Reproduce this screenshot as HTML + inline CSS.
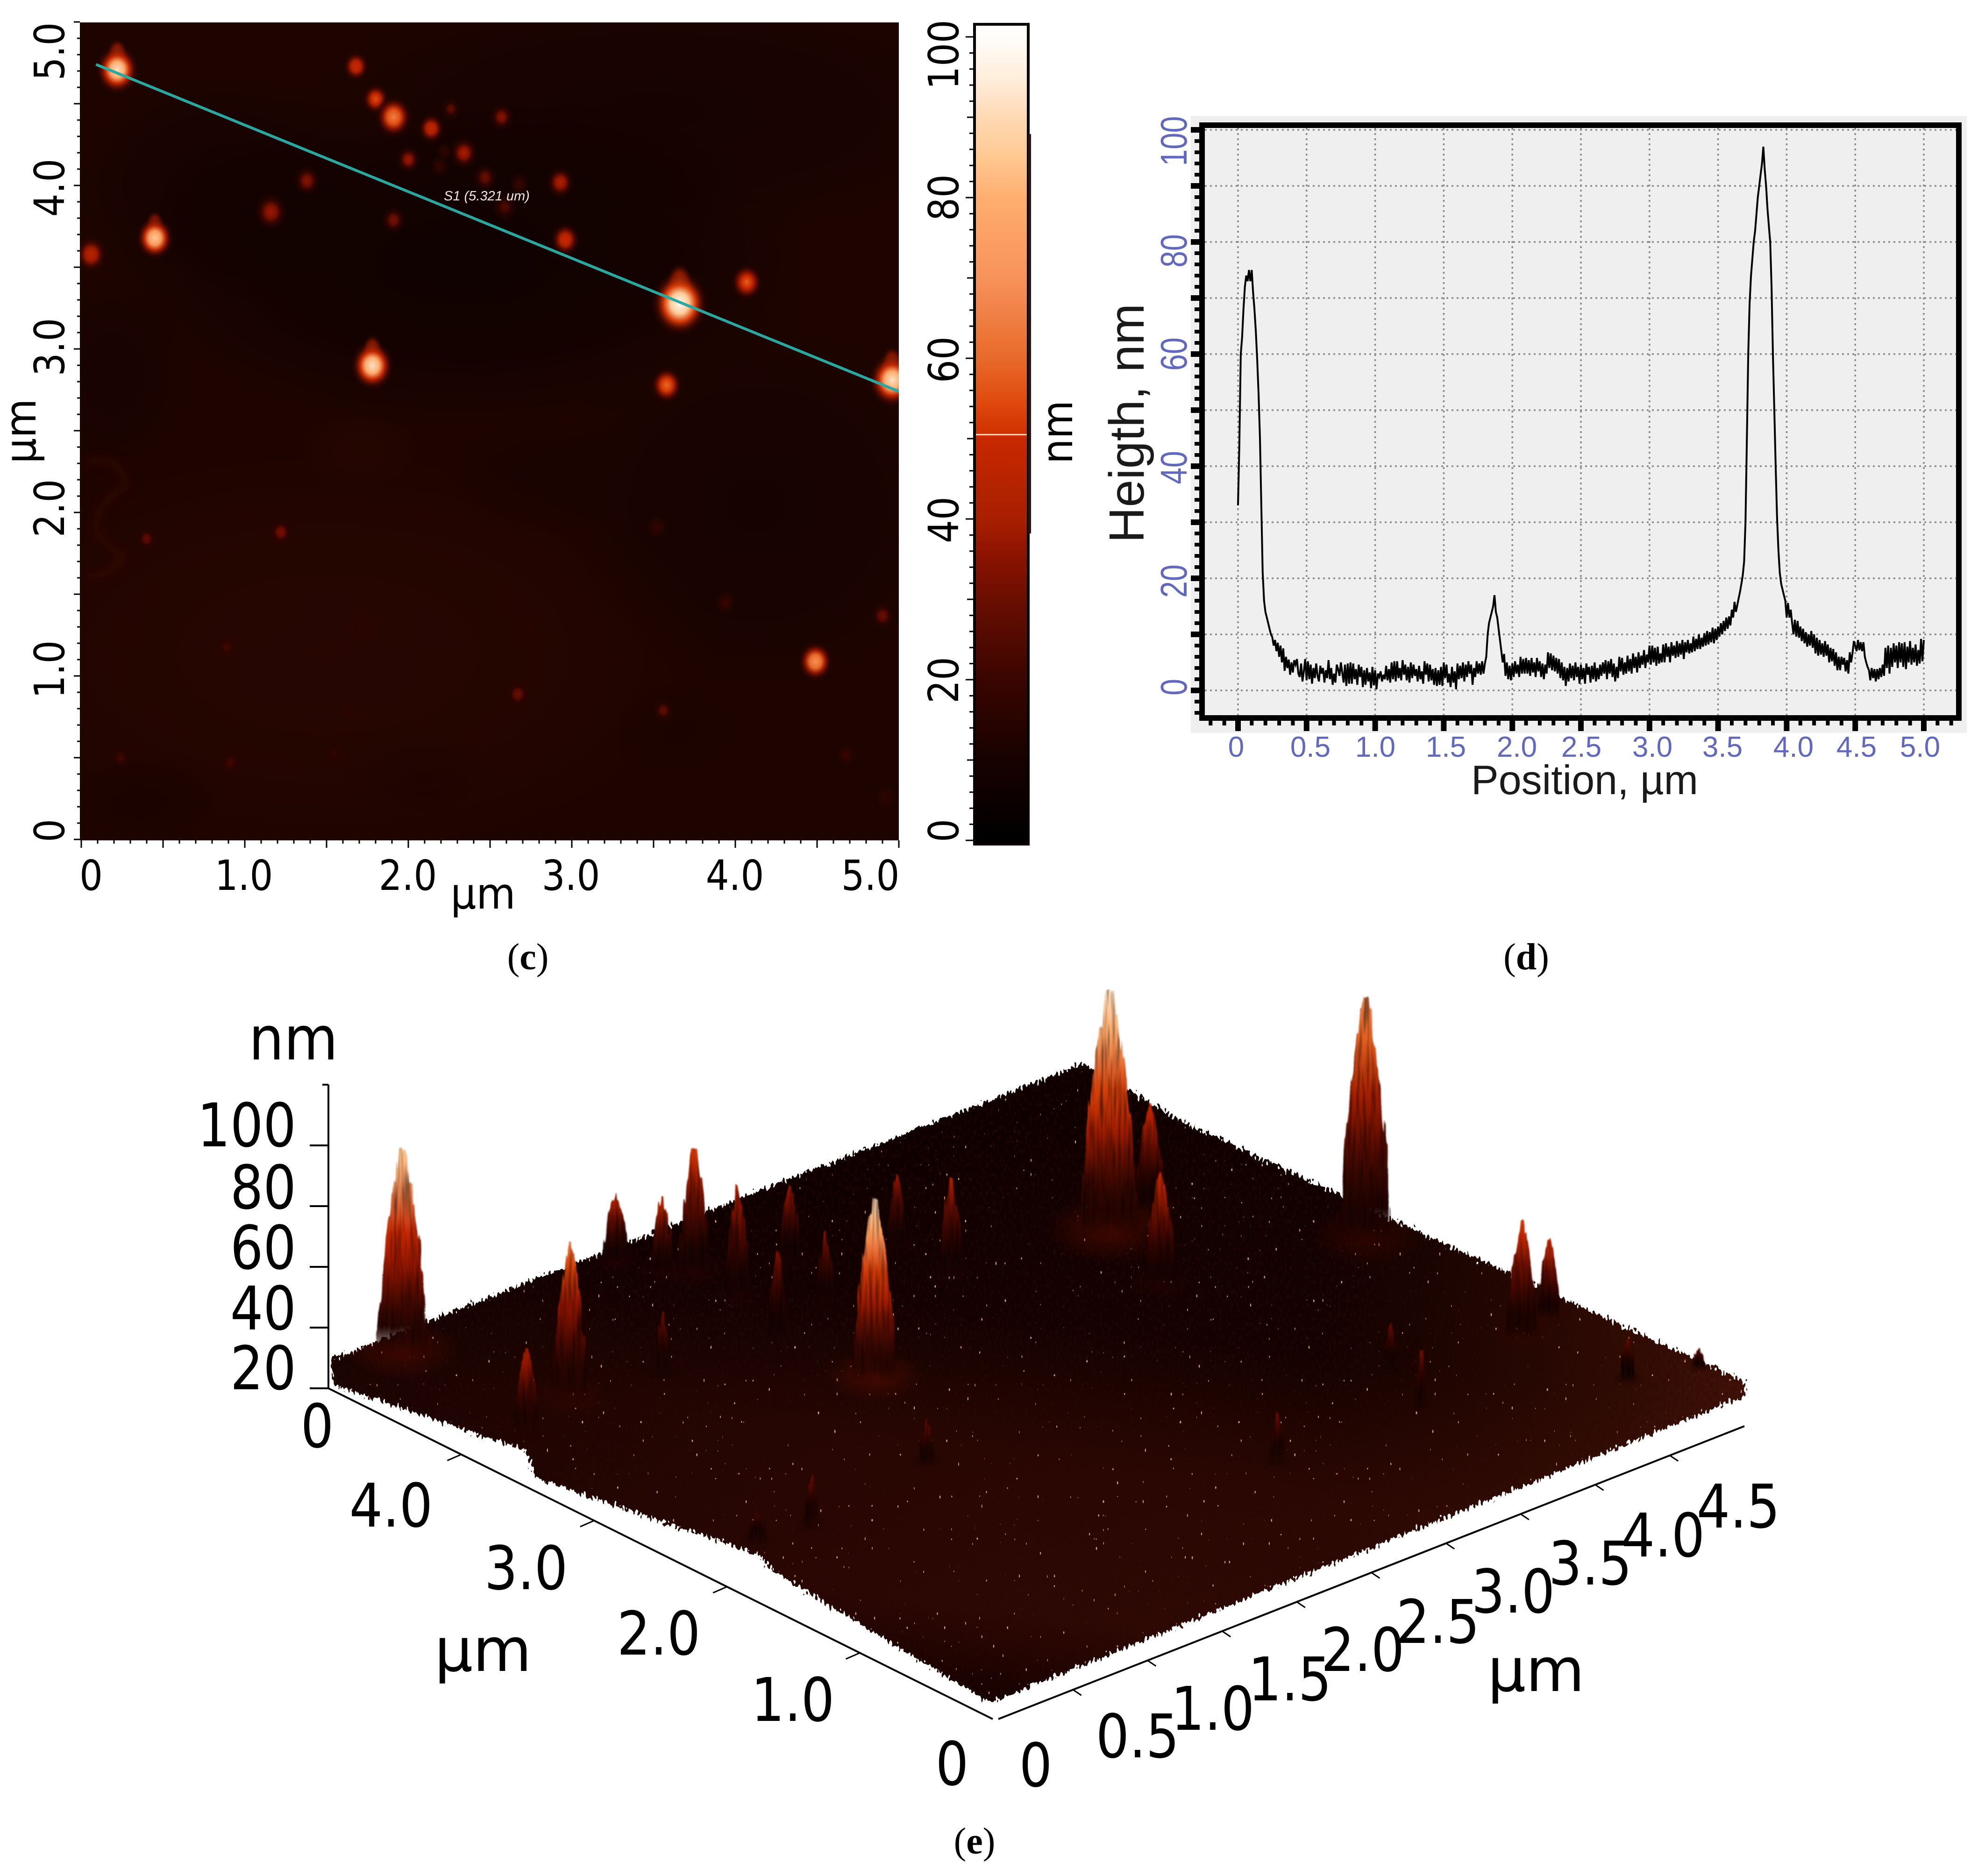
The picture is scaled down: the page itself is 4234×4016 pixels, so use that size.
<!DOCTYPE html>
<html lang="en">
<head>
<meta charset="utf-8">
<title>AFM topography panels</title>
<style>
html,body{margin:0;padding:0;background:#fff;}
svg{display:block;}
.tl{font-family:"DejaVu Sans",sans-serif;fill:#000;}
.ar{font-family:"Liberation Sans",Arial,sans-serif;}
.cap{font-family:"Liberation Serif",serif;font-size:80px;fill:#000;text-anchor:middle;}
.bl{fill:#6268bd;text-anchor:middle;}
</style>
</head>
<body>
<svg id="chart" xmlns="http://www.w3.org/2000/svg" width="4234" height="4016" viewBox="0 0 4234 4016">
  <defs id="defs">
    <clipPath id="heatClip"><rect x="171" y="48" width="1753" height="1751"/></clipPath>
    <clipPath id="planeClip"><polygon id="planeClipShape" points="0,0"/></clipPath>
    <radialGradient id="darkSoft"><stop offset="0" stop-color="#0c0100"/><stop offset="0.55" stop-color="#0c0100" stop-opacity="0.65"/><stop offset="1" stop-color="#0c0100" stop-opacity="0"/></radialGradient>
    <radialGradient id="warmSoft"><stop offset="0" stop-color="#2e0803"/><stop offset="0.55" stop-color="#2e0803" stop-opacity="0.65"/><stop offset="1" stop-color="#2e0803" stop-opacity="0"/></radialGradient>
    <filter id="blur6" x="-20%" y="-20%" width="140%" height="140%"><feGaussianBlur stdDeviation="11"/></filter>
    <filter id="peakJag" x="-25%" y="-8%" width="150%" height="116%" color-interpolation-filters="sRGB">
      <feTurbulence type="fractalNoise" baseFrequency="0.16 0.01" numOctaves="2" seed="11" result="noise"/>
      <feDisplacementMap in="SourceGraphic" in2="noise" scale="14" xChannelSelector="R" yChannelSelector="A" result="shape"/>
      <feColorMatrix in="noise" values="0 0 0 0 0  0 0 0 0 0  0 0 0 0 0  0 1.3 0 0 -0.55" result="streakBlack"/>
      <feComposite in="streakBlack" in2="shape" operator="atop"/>
      <feGaussianBlur stdDeviation="1.2"/>
    </filter>
    <filter id="surfaceFx" x="-2%" y="-2%" width="104%" height="104%" color-interpolation-filters="sRGB">
      <feTurbulence type="fractalNoise" baseFrequency="0.2 0.1" numOctaves="1" seed="21" result="n"/>
      <feDisplacementMap in="SourceGraphic" in2="n" scale="32" xChannelSelector="R" yChannelSelector="B" result="shape"/>
      <feColorMatrix in="n" values="0 0 0 0 0.16  0 0 0 0 0.035  0 0 0 0 0.015  0 1.8 0 0 -0.85" result="streakTone"/>
      <feComposite in="streakTone" in2="shape" operator="in" result="streakLayer"/>
      <feColorMatrix in="n" values="0 0 0 0 0.78  0 0 0 0 0.58  0 0 0 0 0.5  30 0 0 0 -22.2" result="speckTone"/>
      <feComposite in="speckTone" in2="shape" operator="in" result="speckLayer"/>
      <feMerge><feMergeNode in="shape"/><feMergeNode in="streakLayer"/><feMergeNode in="speckLayer"/></feMerge>
    </filter>
    <linearGradient id="surfDepth" gradientUnits="userSpaceOnUse" x1="2300" y1="2276" x2="2120" y2="3645">
      <stop offset="0" stop-color="#0c0000"/>
      <stop offset="0.4" stop-color="#120100"/>
      <stop offset="0.62" stop-color="#2a0703"/>
      <stop offset="0.86" stop-color="#2f0804"/>
      <stop offset="1" stop-color="#140100"/>
    </linearGradient>
    <linearGradient id="surfSide" gradientUnits="userSpaceOnUse" x1="700" y1="3000" x2="3734" y2="3000">
      <stop offset="0" stop-color="#0a0000" stop-opacity="0.5"/>
      <stop offset="0.35" stop-color="#0a0000" stop-opacity="0.12"/>
      <stop offset="0.7" stop-color="#3c1006" stop-opacity="0.05"/>
      <stop offset="1" stop-color="#5a1a0a" stop-opacity="0.65"/>
    </linearGradient>
  </defs>

  <rect x="0" y="0" width="4234" height="4016" fill="#fff"/>

  <!-- panel c -->
  <g>
    <g clip-path="url(#heatClip)">
      <rect x="171" y="48" width="1753" height="1751" fill="#1e0400"/>
      <g>
        <ellipse cx="1000" cy="560" rx="760" ry="360" fill="url(#darkSoft)" opacity=".85"/>
        <ellipse cx="1620" cy="1080" rx="460" ry="420" fill="url(#darkSoft)" opacity=".45"/>
        <ellipse cx="480" cy="400" rx="340" ry="250" fill="url(#darkSoft)" opacity=".5"/>
        <ellipse cx="1400" cy="240" rx="820" ry="280" fill="url(#darkSoft)" opacity=".45"/>
        <ellipse cx="700" cy="1400" rx="820" ry="440" fill="url(#warmSoft)" opacity=".55"/>
        <ellipse cx="240" cy="800" rx="170" ry="220" fill="url(#darkSoft)" opacity=".35"/>
        <ellipse cx="1150" cy="1020" rx="200" ry="140" fill="url(#darkSoft)" opacity=".22"/>
        <ellipse cx="320" cy="1700" rx="170" ry="100" fill="url(#darkSoft)" opacity=".28"/>
        <ellipse cx="900" cy="1660" rx="180" ry="100" fill="url(#darkSoft)" opacity=".18"/>
        <ellipse cx="1440" cy="1560" rx="150" ry="110" fill="url(#darkSoft)" opacity=".18"/>
        <ellipse cx="770" cy="960" rx="130" ry="80" fill="url(#warmSoft)" opacity=".4"/>
      </g>
      <path d="M180 995 Q250 960 270 1040 Q200 1080 205 1140 Q240 1180 265 1190 Q230 1240 185 1230" fill="none" stroke="#3c0d03" stroke-width="16" opacity=".45" filter="url(#blur6)"/>
      <g id="heatSpots"></g>
      <line id="profileLine" stroke="#2ba7a0" stroke-width="6"/>
      <text x="950" y="429" font-family="Liberation Sans, sans-serif" font-style="italic" font-size="29" fill="#f4e8e0">S1 (5.321 um)</text>
    </g>
    <g id="heatTicks"></g>
    <g class="tl" font-size="89" text-anchor="middle">
      <text transform="translate(195,1905) scale(.88,1)">0</text>
      <text transform="translate(522,1905) scale(.88,1)">1.0</text>
      <text transform="translate(873,1905) scale(.88,1)">2.0</text>
      <text transform="translate(1222,1905) scale(.88,1)">3.0</text>
      <text transform="translate(1573,1905) scale(.88,1)">4.0</text>
      <text transform="translate(1863,1905) scale(.88,1)">5.0</text>
      <text transform="translate(137,1778) rotate(-90) scale(.88,1)">0</text>
      <text transform="translate(137,1433) rotate(-90) scale(.88,1)">1.0</text>
      <text transform="translate(137,1088) rotate(-90) scale(.88,1)">2.0</text>
      <text transform="translate(137,743) rotate(-90) scale(.88,1)">3.0</text>
      <text transform="translate(137,402) rotate(-90) scale(.88,1)">4.0</text>
      <text transform="translate(137,110) rotate(-90) scale(.88,1)">5.0</text>
      <text font-size="92" transform="translate(1034,1945) scale(.94,1)">µm</text>
      <text font-size="92" transform="translate(76,923) rotate(-90) scale(.94,1)">µm</text>
      <text transform="translate(2051,117) rotate(-90) scale(.88,1)">100</text>
      <text transform="translate(2051,423) rotate(-90) scale(.88,1)">80</text>
      <text transform="translate(2051,770) rotate(-90) scale(.88,1)">60</text>
      <text transform="translate(2051,1113) rotate(-90) scale(.88,1)">40</text>
      <text transform="translate(2051,1456) rotate(-90) scale(.88,1)">20</text>
      <text transform="translate(2051,1778) rotate(-90) scale(.88,1)">0</text>
      <text font-size="92" transform="translate(2295,925) rotate(-90) scale(.92,1)">nm</text>
    </g>
    <rect id="colorbarFill" x="2086" y="52" width="115" height="1755"/>
    <rect x="2086" y="52" width="115" height="1755" fill="none" stroke="#0a0000" stroke-width="6"/>
    <line x1="2204" y1="287" x2="2204" y2="1142" stroke="#2a1414" stroke-width="6"/>
    <line id="colorbarMark" x1="2089" x2="2198" stroke="#ffdcc8" stroke-width="3"/>
    <g id="colorbarTicks"></g>
    <text class="cap" x="1130" y="2075">(<tspan font-weight="bold">c</tspan>)</text>
  </g>

  <!-- panel d -->
  <g>
    <rect x="2549" y="248" width="1661" height="1321" fill="#efefef"/>
    <g id="profileGrid"></g>
    <polyline id="profileSeries" fill="none" stroke="#000" stroke-width="4" stroke-linejoin="miter"/>
    <g id="profileTicks"></g>
    <rect x="2573" y="268" width="1620" height="1269" fill="none" stroke="#000" stroke-width="12"/>
    <g class="ar bl" font-size="62">
      <text x="2646" y="1620">0</text>
      <text x="2805" y="1620">0.5</text>
      <text x="2944" y="1620">1.0</text>
      <text x="3095" y="1620">1.5</text>
      <text x="3247" y="1620">2.0</text>
      <text x="3385" y="1620">2.5</text>
      <text x="3537" y="1620">3.0</text>
      <text x="3687" y="1620">3.5</text>
      <text x="3839" y="1620">4.0</text>
      <text x="3974" y="1620">4.5</text>
      <text x="4110" y="1620">5.0</text>
    </g>
    <g class="ar bl" font-size="80">
      <text transform="translate(2540,1471) rotate(-90) scale(.8,1)">0</text>
      <text transform="translate(2540,1244) rotate(-90) scale(.8,1)">20</text>
      <text transform="translate(2540,1001) rotate(-90) scale(.8,1)">40</text>
      <text transform="translate(2540,758) rotate(-90) scale(.8,1)">60</text>
      <text transform="translate(2540,537) rotate(-90) scale(.8,1)">80</text>
      <text transform="translate(2540,302) rotate(-90) scale(.8,1)">100</text>
    </g>
    <text class="ar" font-size="106" fill="#1a1a1a" text-anchor="middle" transform="translate(2448,906) rotate(-90)">Heigth, nm</text>
    <text class="ar" font-size="88" fill="#1a1a1a" text-anchor="middle" x="3392" y="1700">Position, µm</text>
    <text class="cap" x="3267" y="2075">(<tspan font-weight="bold">d</tspan>)</text>
  </g>

  <!-- panel e -->
  <g>
    <g id="surfaceGroup"></g>
    <g id="surfaceAxes"></g>
    <g class="tl" font-size="129">
      <text text-anchor="end" transform="translate(634,2454) scale(.86,1)">100</text>
      <text text-anchor="end" transform="translate(634,2587) scale(.86,1)">80</text>
      <text text-anchor="end" transform="translate(634,2716) scale(.86,1)">60</text>
      <text text-anchor="end" transform="translate(634,2846) scale(.86,1)">40</text>
      <text text-anchor="end" transform="translate(634,2974) scale(.86,1)">20</text>
      <text text-anchor="middle" transform="translate(628,2268) scale(.92,1)">nm</text>
      <g text-anchor="middle">
        <text transform="translate(679,3098) scale(.86,1)">0</text>
        <text transform="translate(837,3268) scale(.87,1)">4.0</text>
        <text transform="translate(1126,3402) scale(.87,1)">3.0</text>
        <text transform="translate(1410,3542) scale(.87,1)">2.0</text>
        <text transform="translate(1697,3684) scale(.87,1)">1.0</text>
        <text transform="translate(2038,3821) scale(.86,1)">0</text>
        <text transform="translate(2217,3824) scale(.86,1)">0</text>
        <text transform="translate(2435,3762) scale(.87,1)">0.5</text>
        <text transform="translate(2596,3703) scale(.87,1)">1.0</text>
        <text transform="translate(2761,3640) scale(.87,1)">1.5</text>
        <text transform="translate(2917,3577) scale(.87,1)">2.0</text>
        <text transform="translate(3078,3517) scale(.87,1)">2.5</text>
        <text transform="translate(3239,3452) scale(.87,1)">3.0</text>
        <text transform="translate(3404,3392) scale(.87,1)">3.5</text>
        <text transform="translate(3560,3332) scale(.87,1)">4.0</text>
        <text transform="translate(3721,3270) scale(.87,1)">4.5</text>
        <text transform="translate(1034,3577)">µm</text>
        <text transform="translate(3288,3620)">µm</text>
      </g>
    </g>
    <text class="cap" x="2086" y="3968">(<tspan font-weight="bold">e</tspan>)</text>
  </g>
</svg>

<script>
// Colour scale (nm)
const cmapValues = [0, 5, 10, 20, 30, 35, 40, 50, 50.5, 55, 60, 70, 80, 85, 90, 95, 100];
const cmapColors = ['#000000','#0c0000','#170200','#3a0500','#6a0e00','#8a1200','#a81f00','#c82800','#d03000','#e04c10','#e86a2a','#f7925a','#ffae70','#ffc890','#ffd9b4','#ffeedd','#fffdf9'];
const colorbarMarkerNm = [50.5];

// Panel c: height-map spots
const spotX = [0.22,0.45,0.06,1.68,1.80,1.91,2.14,2.26,2.57,2.00,2.34,2.47,2.68,2.93,2.96,2.59,1.91,1.38,1.16,3.66,4.07,3.58,4.96,1.78,0.40,1.22,3.52,4.49,4.90,3.94,0.89,2.67,3.56,0.24,0.91,1.55,4.68,4.92,1.64,1.72,2.19,2.22];
const spotY = [4.72,3.69,3.59,4.74,4.54,4.43,4.36,4.48,4.43,4.17,4.21,4.06,4.02,4.03,3.68,3.88,3.80,4.04,3.85,3.29,3.42,2.79,2.82,2.91,1.85,1.89,1.92,1.10,1.38,1.46,1.19,0.90,0.80,0.51,0.48,0.54,0.53,0.27,0.80,1.31,4.13,4.22];
const spotRadiusUm = [0.076,0.067,0.06,0.05,0.05,0.067,0.05,0.034,0.042,0.042,0.05,0.042,0.034,0.05,0.055,0.042,0.042,0.046,0.059,0.10,0.059,0.059,0.084,0.076,0.038,0.042,0.034,0.063,0.042,0.034,0.038,0.042,0.038,0.034,0.038,0.034,0.034,0.034,0.03,0.05,0.03,0.025];
const spotHeightNm = [92,85,45,50,55,65,48,28,35,38,40,30,20,42,50,25,32,35,38,100,58,60,92,92,28,32,18,70,30,20,22,30,28,22,22,18,20,14,12,12,18,15];
const profileLineX = [0.09, 5.0];
const profileLineY = [4.74, 2.74];

// Panel d: height profile, one sample every profileStepUm
const profileStepUm = 0.01;
const profileHeights = [
33,44,60,63,68,72,74,73,75,73,
75,71,68,64,59,53,45,33,21,16,
14,13,12,11,10,9.5,8,9,7,8.5,
6,8,5,7.5,3.5,6,4,5.5,2.8,5,
3.2,5.4,4.6,5.6,3,2.4,4.8,1.6,3.4,5.6,
1.8,5.2,2,4.6,1.2,4,2.2,4.8,2.6,1.6,
4.4,3,4,1.4,3.6,2.2,5.4,2,4,1,
3,1.4,4.6,3.8,2.6,5,3.2,1.4,4.6,0.8,
4.8,1.2,5,1.2,4.8,2,3.8,1,4.6,2.4,
4.2,0.6,3.6,1,4,1.6,3.2,0.4,4.2,0.9,
3.6,0.2,3,2.4,3.4,1.6,2.8,2,4.4,1.8,
3.8,1.4,5,2,5.2,1.6,5.2,2.2,4,1.8,
5.4,2.8,4.6,1.8,4.2,1.4,5,2.2,4.6,2.6,
3.8,1.6,4.4,2,3.4,1.2,5.2,2.8,4.8,1.6,
4.6,1.8,3.8,1,4,0.8,3.6,1,4.2,0.8,
5,2.2,4.6,1.4,3,0.6,4.2,1.4,3.4,0.2,
4.8,2,4.4,2.2,5,1.6,4.6,2.4,5.2,3,
4.6,1,4,2.4,5.2,3,4.8,2.8,5.2,3,
4.8,6,10,12,13,14,15,17,14,13,
11,9,7,5,6.5,2.6,5,2,4.4,1.8,
4.8,2.4,5.2,3,4.6,2.4,6,3,5.6,3,
5.8,3,5.4,2.6,5.8,3.2,5,2.4,5.8,3.4,
5.2,2.4,4.8,2,4.6,3,6.8,4,6.6,3.6,
6.2,3.4,5.8,3,5.6,2.2,5,1.8,4.2,0.8,
4,1.6,4.8,2.2,4.4,1.8,5,2.4,4.2,1.2,
4.6,2,4,1.2,4.8,2.8,4.2,1.4,4.4,2,
5,1.6,4,2,4.6,2.6,5,3,5.4,2,
5.2,3,5.6,2.4,4.8,1.6,4.2,2.2,6,3.4,
5.8,2.8,5,3,6.2,3.4,5.6,3,6.6,4,
6,3.2,6.8,4,6.2,4.6,7.2,4,6.4,5,
8,4.6,8,5,7.6,4.4,7.8,4.8,6.6,5,
8.2,5,8.4,6,7.8,5,8.6,6.2,8,5.8,
8.8,6,8.4,6.4,9,5.6,8.6,6.8,9,6.6,
8.4,6.8,9.6,7,9.2,7.4,10,7.4,9.4,7.8,
10.2,8,10.6,8.2,10.4,8.6,11.2,8.4,11,9,
11.4,9.6,12,10,12.4,10.6,13,11,13.2,11.6,
14.4,13,15.8,14,15.2,16.4,17.6,19,20.5,23,
30,45,60,69,74,77,80,82,85,88,
90,92,94,97,93,90,86,83,80,72,
60,50,40,31,25,21,19,18,17,16,
13,15.6,13,14.4,12,10,12.6,9.6,12.4,9.4,
11.4,8.8,11,8.4,10.4,7.8,10,8,10.6,7.6,
10,6.6,9.4,6.2,9,6.4,8.4,6,8.8,6.2,
8.2,5,7.6,5.2,7.4,4.4,6.8,3.6,6,3.6,
6,4.6,5.8,3.4,5.4,3,6.8,5,6.6,8.8,
8,7,9,7.2,8.6,7,8.6,6,5,4.2,
3.6,1.8,4,2.2,3.8,1.6,3.8,2,4,2.4,
4.6,2.6,7.6,4,8,3,7.6,4.2,8.4,5,
8,4,8.6,5,8.4,4.2,8.6,3.8,7.8,5,
8.8,4.6,7.6,5,8.2,4.4,7.2,4.8,9.2,5.2,
9];

// Panel e: surface peaks in data coordinates
const peakX = [0.31,0.61,0.18,1.76,1.84,1.96,1.94,2.40,2.26,1.86,2.88,2.90,3.75,4.08,3.58,4.64,4.54,4.78,1.13,1.82,3.68,2.75,1.47,0.60,0.29,3.84,4.62,4.97];
const peakY = [4.81,3.88,3.72,4.85,4.59,4.48,4.13,4.26,3.83,3.00,4.00,3.61,3.38,3.45,2.80,2.46,1.16,1.23,3.77,3.69,0.94,0.97,2.16,2.04,2.10,1.35,0.45,0.31];
const peakHeightNm = [69,53,30,23,26,42,38,25,23,61,25,32,82,36,38,82,39,26,21,29,19,17,15,17,10,15,15,7];
const peakWidthUm = [0.33,0.23,0.17,0.17,0.15,0.21,0.17,0.15,0.12,0.28,0.13,0.15,0.38,0.21,0.21,0.33,0.2,0.15,0.1,0.12,0.08,0.1,0.1,0.1,0.12,0.1,0.1,0.08];
const peakTopToneNm = [85,62,42,46,46,52,42,38,38,90,38,42,92,48,48,68,52,48,32,34,34,30,32,30,30,30,30,34];
const surfaceEdgeX = [0.02,4.88,4.83,4.90,5.04,4.94,0,0.13,0.20,-0.07,0.09,-0.15];
const surfaceEdgeY = [5.02,4.87,4.04,2.59,0.05,-0.07,0,1.73,2.00,3.36,3.62,4.80];

// Axis functions
const heatX = v => 174 + 350 * v;
const heatY = v => 1797 - 350 * v;
const colorY = v => 1799 - 17.2 * v;
const profX = v => 2650 + 293.6 * v;
const profY = v => 1478 - 12 * v;
const proj = (x, y, z) => ({
  px: 2120 + (x / 5) * 1614 + (y / 5) * -1413,
  py: 3645 + (x / 5) * -675 + (y / 5) * -729 - z * 6.4
});
const axisYPoint = v => ({px: 2125 + (v / 5) * (703 - 2125), py: 3680 + (v / 5) * (2972 - 3680)});
const axisXPoint = v => ({px: 2137 + (v / 5) * (3734 - 2137), py: 3680 + (v / 5) * (3053 - 3680)});
const axisZ = v => 2972 - 6.5 * (v - 20);

const SVGNS = 'http://www.w3.org/2000/svg';
function make(tag, attrs, parent) {
  const n = document.createElementNS(SVGNS, tag);
  for (const k in attrs) n.setAttribute(k, attrs[k]);
  parent.appendChild(n);
  return n;
}
function hexToRgb(h) { return [1, 3, 5].map(i => parseInt(h.substr(i, 2), 16)); }
function cmap(v) {
  v = Math.max(cmapValues[0], Math.min(cmapValues[cmapValues.length - 1], v));
  let i = 0;
  while (i < cmapValues.length - 2 && v > cmapValues[i + 1]) i++;
  const t = (v - cmapValues[i]) / (cmapValues[i + 1] - cmapValues[i]);
  const a = hexToRgb(cmapColors[i]);
  const b = hexToRgb(cmapColors[i + 1]);
  return 'rgb(' + a.map((c, k) => Math.round(c + (b[k] - c) * t)).join(',') + ')';
}
// Plane colour at a given screen depth, used so a peak's foot blends into the surface
function planeColor(py) {
  const f = Math.max(0, Math.min(1, (py - 2276) / 1369));
  if (f < 0.4) return 'rgb(' + Math.round(20 + f / 0.4 * 6) + ',' + Math.round(2 + f / 0.4) + ',1)';
  const g = Math.min(1, (f - 0.4) / 0.22);
  return 'rgb(' + Math.round(26 + g * 18) + ',' + Math.round(3 + g * 6) + ',' + Math.round(1 + g * 3) + ')';
}

const defs = document.getElementById('defs');

// Colorbar
const cbGrad = make('linearGradient', {id: 'cbGrad', gradientUnits: 'userSpaceOnUse', x1: 0, x2: 0, y1: colorY(0), y2: colorY(100)}, defs);
cmapValues.forEach((v, i) => {
  make('stop', {offset: v / 100, 'stop-color': cmapColors[i]}, cbGrad);
});
document.getElementById('colorbarFill').setAttribute('fill', 'url(#cbGrad)');
const markerLine = document.getElementById('colorbarMark');
markerLine.setAttribute('y1', colorY(colorbarMarkerNm[0]));
markerLine.setAttribute('y2', colorY(colorbarMarkerNm[0]));

const cbTicks = document.getElementById('colorbarTicks');
for (let v = 0; v <= 100; v += 2) {
  const len = v % 20 === 0 ? 16 : (v % 10 === 0 ? 13 : 8);
  const t = make('line', {x1: 2083 - len, x2: 2084, y1: colorY(v), y2: colorY(v), stroke: '#000', 'stroke-width': 3}, cbTicks);
  
  
}

// Height map ticks
const hTicks = document.getElementById('heatTicks');
for (let i = 0; i <= 50; i++) {
  const v = i / 10;
  const major = i % 5 === 0;
  const xt = make('line', {x1: heatX(v), x2: heatX(v), y1: 1799, y2: major ? 1815 : 1806, stroke: '#000', 'stroke-width': 3}, hTicks);
  
  
  const yt = make('line', {y1: heatY(v), y2: heatY(v), x1: major ? 158 : 165, x2: 171, stroke: '#000', 'stroke-width': 3}, hTicks);
  
  
}

// Height map spots: outer stops never go darker than the background
const spotGroup = document.getElementById('heatSpots');
spotX.forEach((sx, i) => {
  const v = spotHeightNm[i];
  const g = make('radialGradient', {id: 'spot' + i}, defs);
  make('stop', {offset: 0, 'stop-color': cmap(Math.max(v, 15))}, g);
  make('stop', {offset: 0.32, 'stop-color': cmap(Math.max(v * 0.86, 15))}, g);
  make('stop', {offset: 0.56, 'stop-color': cmap(Math.max(v * 0.52, 15)), 'stop-opacity': v < 30 ? 0.7 : 1}, g);
  make('stop', {offset: 0.8, 'stop-color': cmap(Math.max(v * 0.3, 15)), 'stop-opacity': 0.45}, g);
  make('stop', {offset: 1, 'stop-color': cmap(15), 'stop-opacity': 0}, g);
  const r = spotRadiusUm[i] * 350 * 1.75;
  if (v >= 80) {
    const tg = make('radialGradient', {id: 'tail' + i}, defs);
    make('stop', {offset: 0, 'stop-color': cmap(v * 0.62)}, tg);
    make('stop', {offset: 0.6, 'stop-color': cmap(v * 0.42), 'stop-opacity': 0.8}, tg);
    make('stop', {offset: 1, 'stop-color': cmap(15), 'stop-opacity': 0}, tg);
    const tail = make('ellipse', {cx: heatX(sx), cy: heatY(spotY[i]) - r * 0.5, rx: r * 0.5, ry: r * 0.85, fill: 'url(#tail' + i + ')'}, spotGroup);
    
    
  }
  const e = make('ellipse', {cx: heatX(sx), cy: heatY(spotY[i]) + 4, rx: r, ry: r * 1.14, fill: 'url(#spot' + i + ')'}, spotGroup);
  
  
});

const pl = document.getElementById('profileLine');
pl.setAttribute('x1', heatX(profileLineX[0]));
pl.setAttribute('y1', heatY(profileLineY[0]));
pl.setAttribute('x2', heatX(profileLineX[1]));
pl.setAttribute('y2', heatY(profileLineY[1]));

// Profile grid and ticks
const pGrid = document.getElementById('profileGrid');
for (let i = 0; i <= 10; i++) {
  const gy = make('line', {x1: 2579, x2: 4187, y1: profY(i * 10), y2: profY(i * 10), stroke: '#8a8a8a', 'stroke-width': 3.5, 'stroke-dasharray': '4 7'}, pGrid);
  
  
  const gx = make('line', {x1: profX(i * 0.5), x2: profX(i * 0.5), y1: 274, y2: 1531, stroke: '#8a8a8a', 'stroke-width': 3.5, 'stroke-dasharray': '4 7'}, pGrid);
  
  
}
const pTicks = document.getElementById('profileTicks');
for (let v = -4; v <= 100; v += 2) {
  const major = v % 10 === 0;
  const t = make('line', {x1: major ? 2549 : 2557, x2: 2568, y1: profY(v), y2: profY(v), stroke: '#000', 'stroke-width': major ? 12 : 8}, pTicks);
  
  
}
for (let i = -2; i <= 52; i++) {
  const major = i % 5 === 0;
  const t = make('line', {x1: profX(i / 10), x2: profX(i / 10), y1: 1542, y2: major ? 1565 : 1553, stroke: '#000', 'stroke-width': major ? 12 : 8}, pTicks);
  
  
}
document.getElementById('profileSeries').setAttribute('points',
  profileHeights.map((h, i) => profX(i * profileStepUm).toFixed(1) + ',' + profY(h).toFixed(1)).join(' '));

// 3D surface: one filter pass provides the jagged edge, streaks and specks
const surf = document.getElementById('surfaceGroup');
const outline = surfaceEdgeX.map((x, i) => {
  const p = proj(x, surfaceEdgeY[i], 0);
  return p.px.toFixed(1) + ',' + p.py.toFixed(1);
}).join(' ');
document.getElementById('planeClipShape').setAttribute('points', outline);
const planeGroup = make('g', {filter: 'url(#surfaceFx)'}, surf);


const sBase = make('polygon', {points: outline, fill: 'url(#surfDepth)'}, planeGroup);


const sSide = make('polygon', {points: outline, fill: 'url(#surfSide)'}, planeGroup);



const order = peakX.map((_, i) => i).sort((a, b) => proj(peakX[a], peakY[a], 0).py - proj(peakX[b], peakY[b], 0).py);

// Soft reddish skirts around the feet of the peaks, kept on the plane
const haloClip = make('g', {'clip-path': 'url(#planeClip)'}, surf);


order.forEach(i => {
  const b = proj(peakX[i], peakY[i], 0);
  const w = peakWidthUm[i] * 324;
  const hg = make('radialGradient', {id: 'halo' + i}, defs);
  make('stop', {offset: 0, 'stop-color': cmap(peakTopToneNm[i] * 0.32), 'stop-opacity': 0.55}, hg);
  make('stop', {offset: 1, 'stop-color': cmap(peakTopToneNm[i] * 0.32), 'stop-opacity': 0}, hg);
  const e = make('ellipse', {cx: b.px, cy: b.py - w * 0.12, rx: w * 1.15, ry: w * 0.6, fill: 'url(#halo' + i + ')'}, haloClip);
  
  
});

const peakGroup = make('g', {}, surf);


order.forEach(i => {
  const base = proj(peakX[i], peakY[i], 0);
  const top = proj(peakX[i], peakY[i], peakHeightNm[i]);
  const w = peakWidthUm[i] * 324;
  const t = peakTopToneNm[i];
  const h = base.py - top.py;
  const g = make('linearGradient', {id: 'peak' + i, x1: 0, y1: 0, x2: 0, y2: 1}, defs);
  make('stop', {offset: 0, 'stop-color': cmap(t)}, g);
  make('stop', {offset: 0.16, 'stop-color': cmap(t * 0.86)}, g);
  make('stop', {offset: 0.4, 'stop-color': cmap(t * 0.58)}, g);
  make('stop', {offset: 0.58, 'stop-color': cmap(t * 0.42)}, g);
  make('stop', {offset: 0.82, 'stop-color': cmap(t * 0.24), 'stop-opacity': 0.55}, g);
  make('stop', {offset: 1, 'stop-color': cmap(t * 0.18), 'stop-opacity': 0}, g);
  const backColor = planeColor(base.py);
  const bg = make('linearGradient', {id: 'peakBack' + i, x1: 0, y1: 0, x2: 0, y2: 1}, defs);
  make('stop', {offset: 0, 'stop-color': backColor}, bg);
  make('stop', {offset: 0.86, 'stop-color': backColor}, bg);
  make('stop', {offset: 1, 'stop-color': backColor, 'stop-opacity': 0}, bg);
  const x = base.px, y = base.py;
  const d = 'M' + (x - w / 2) + ' ' + y +
    ' C' + (x - w * 0.46) + ' ' + (y - h * 0.42) + ' ' + (x - w * 0.24) + ' ' + (y - h * 0.76) + ' ' + (x - w * 0.04) + ' ' + (y - h) +
    ' L' + (x + w * 0.04) + ' ' + (y - h) +
    ' C' + (x + w * 0.24) + ' ' + (y - h * 0.76) + ' ' + (x + w * 0.46) + ' ' + (y - h * 0.42) + ' ' + (x + w / 2) + ' ' + y + ' Z';
  const one = make('g', {filter: 'url(#peakJag)'}, peakGroup);
  
  
  const back = make('path', {d: d, fill: 'url(#peakBack' + i + ')'}, one);
  
  
  const p = make('path', {d: d, fill: 'url(#peak' + i + ')'}, one);
  
  
});

// 3D axes
const axes = document.getElementById('surfaceAxes');
const zLine = make('line', {x1: 703, x2: 703, y1: axisZ(120), y2: axisZ(20), stroke: '#000', 'stroke-width': 4}, axes);


for (let v = 20; v <= 120; v += 20) {
  const t = make('line', {x1: v === 120 ? 690 : 663, x2: 703, y1: axisZ(v), y2: axisZ(v), stroke: '#000', 'stroke-width': 4}, axes);
  
  
}
const yA = axisYPoint(0), yB = axisYPoint(5);
const yLine = make('line', {x1: yA.px, y1: yA.py, x2: yB.px, y2: yB.py, stroke: '#000', 'stroke-width': 4}, axes);


for (let v = 1; v <= 4; v++) {
  const p = axisYPoint(v);
  const t = make('line', {x1: p.px, y1: p.py, x2: p.px - 30, y2: p.py + 13, stroke: '#000', 'stroke-width': 3}, axes);
  
  
}
const xA = axisXPoint(0), xB = axisXPoint(5);
const xLine = make('line', {x1: xA.px, y1: xA.py, x2: xB.px, y2: xB.py, stroke: '#000', 'stroke-width': 4}, axes);


for (let i = 1; i <= 9; i++) {
  const p = axisXPoint(i * 0.5);
  const t = make('line', {x1: p.px, y1: p.py, x2: p.px + 18, y2: p.py + 12, stroke: '#000', 'stroke-width': 3}, axes);
  
  
}
</script>
</body>
</html>
